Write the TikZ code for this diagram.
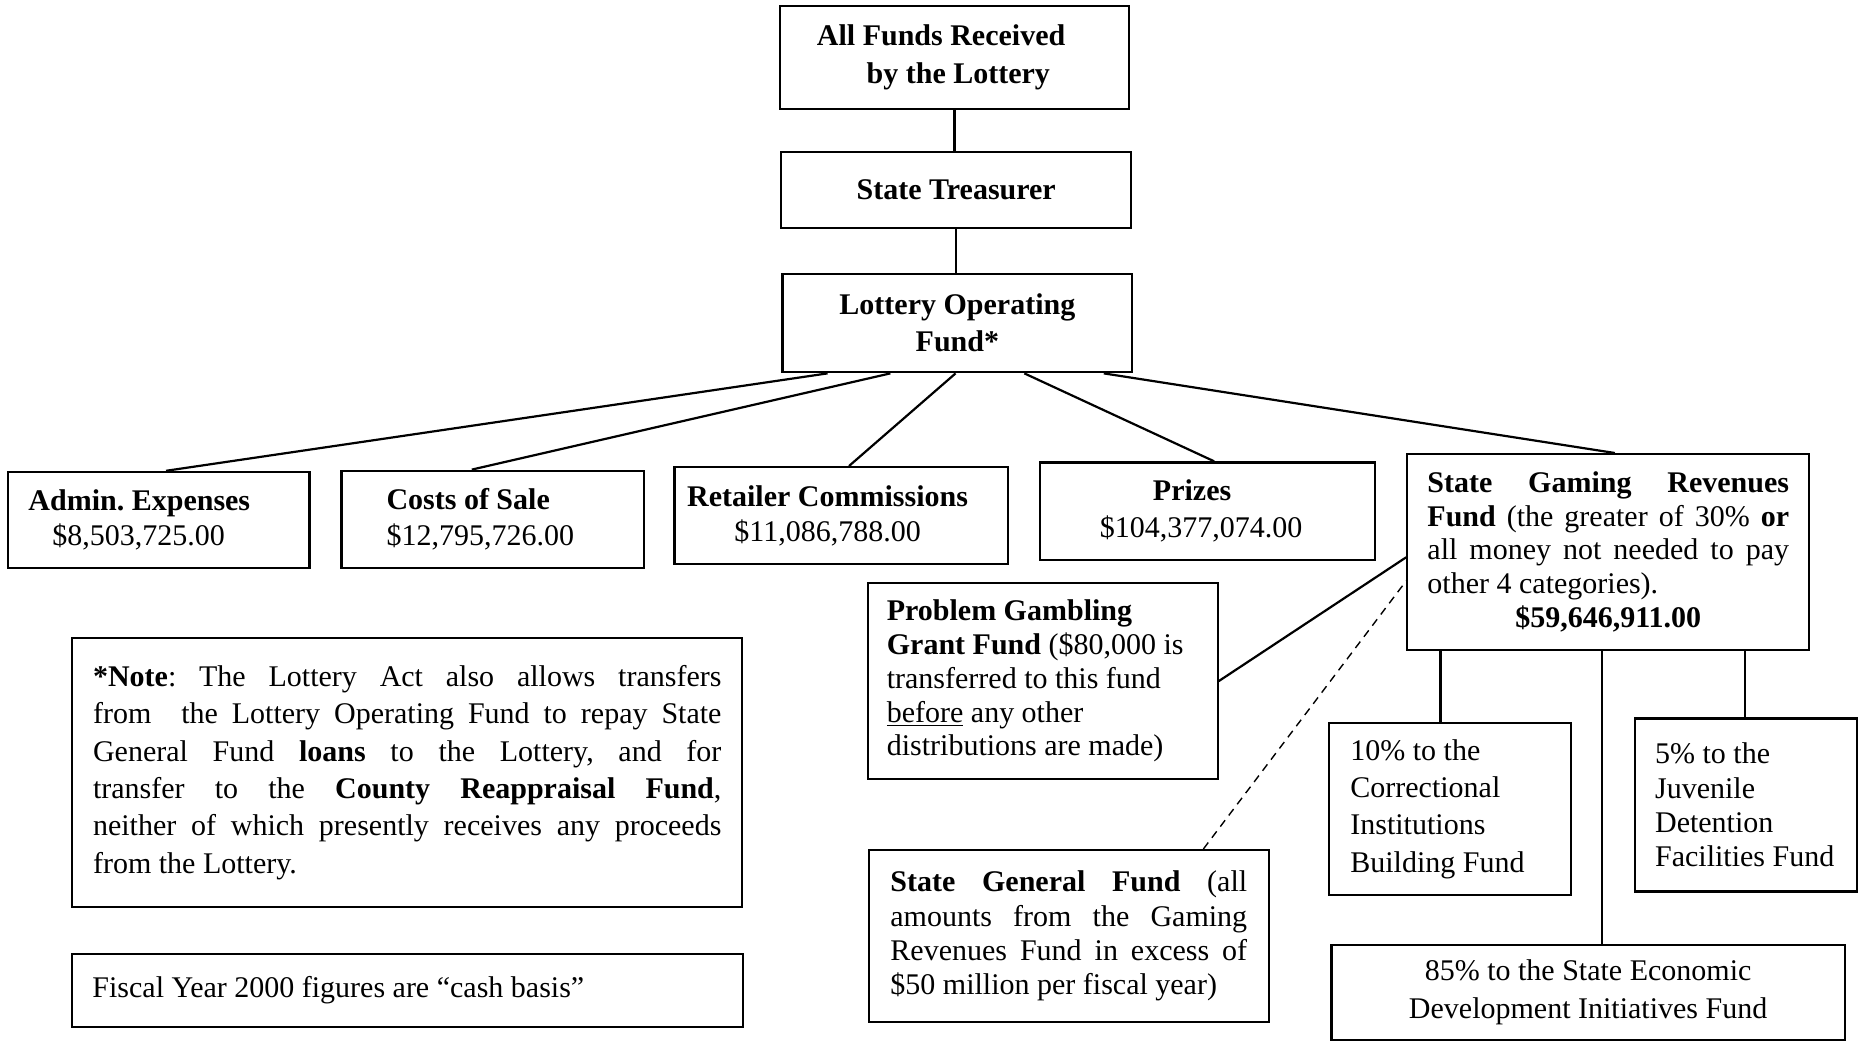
\documentclass[tikz,border=0pt]{standalone}
\usepackage{fontspec}
\setmainfont{Liberation Serif}
\usetikzlibrary{calc}
\newcommand\jline[1]{\makebox[\hsize][s]{\spaceskip=0pt\xspaceskip=0pt\relax #1}}
\tikzset{
  bx/.style={draw, line width=1.1pt, inner sep=0pt},
  fs/.style={font=\fontsize{15}{#1}\selectfont\frenchspacing},
  ln/.style={line width=1.1pt},
  dln/.style={line width=0.7pt, dash pattern=on 4pt off 3pt},
}
\begin{document}
\begin{tikzpicture}[x=0.5928pt,y=-0.5928pt]
\useasboundingbox[fill=white] (0,0) rectangle (1568,879);

% top chain
\node[bx, minimum width=174.3pt, minimum height=51.6pt, text width=137.5pt, align=flush left, fs=19] (af) at (805,48.5)
  {\textbf{All Funds Received}\\\hspace*{24.9pt}\textbf{by the Lottery}};
\node[bx, minimum width=174.9pt, minimum height=37.9pt, align=flush center, fs=18] (st) at (806.5,160)
  {\textbf{State Treasurer}};
\node[bx, minimum width=174.9pt, minimum height=49.2pt, align=flush center, fs=18.4] (lof) at (807.5,272.5)
  {\textbf{Lottery Operating}\\\textbf{Fund*}};

% second row
\node[bx, minimum width=150.6pt, minimum height=48pt, text width=130.4pt, align=flush left, fs=17.8] (admin) at (134,438.5)
  {\textbf{Admin. Expenses}\\\hspace*{11.9pt}\$8,503,725.00};
\node[bx, minimum width=151.2pt, minimum height=48.6pt, text width=106.1pt, align=flush left, fs=17.8] (costs) at (415.5,438)
  {\textbf{Costs of Sale}\\\$12,795,726.00};
\node[bx, minimum width=166.6pt, minimum height=48.6pt, align=flush center, fs=17.2] (ret) at (709.5,435)
  {\textbf{Retailer Commissions}\hspace*{13.6pt}\\\$11,086,788.00\hspace*{13.6pt}};
\node[bx, minimum width=167.8pt, minimum height=48.6pt, align=flush center, fs=18.4] (prizes) at (1018.5,431)
  {\textbf{Prizes}\hspace*{15.4pt}\\\$104,377,074.00\hspace*{6.5pt}};
\node[bx, minimum width=201pt, minimum height=97.8pt, text width=180.8pt, align=flush left, fs=16.9] (sgrf) at (1356.5,465.5)
  {\jline{\textbf{State Gaming Revenues}}\\
   \jline{\textbf{Fund} (the greater of 30\% \textbf{or}}\\
   \jline{all money not needed to pay}\\
   other 4 categories).\\
   \makebox[\hsize][c]{\textbf{\$59,646,911.00}}};

% problem gambling & state general fund
\node[bx, minimum width=174.9pt, minimum height=97.8pt, text width=155.9pt, align=flush left, fs=16.9] (pg) at (879.5,574.5)
  {\textbf{Problem Gambling}\\
   \textbf{Grant Fund} (\$80,000 is\\
   transferred to this fund\\
   \underline{before} any other\\
   distributions are made)};
\node[bx, minimum width=199.8pt, minimum height=86pt, text width=178.4pt, align=flush left, fs=17.2] (sgn) at (901.5,789.5)
  {\jline{\textbf{State General Fund} (all}\\
   \jline{amounts from the Gaming}\\
   \jline{Revenues Fund in excess of}\\
   \$50 million per fiscal year)};

% sub funds
\node[bx, minimum width=120.9pt, minimum height=86pt, text width=99.6pt, align=flush left, fs=18.6] (tenp) at (1223,682.5)
  {10\% to the\\Correctional\\Institutions\\Building Fund};
\node[bx, minimum width=110.9pt, minimum height=86.5pt, text width=90.7pt, align=flush left, fs=17.2] (fivep) at (1472.5,679)
  {5\% to the\\Juvenile\\Detention\\\mbox{Facilities Fund}};
\node[bx, minimum width=256.7pt, minimum height=47.4pt, align=flush center, fs=19] (efive) at (1339.5,837)
  {85\% to the State Economic\\Development Initiatives Fund};

% notes
\node[bx, minimum width=334.9pt, minimum height=134.6pt, text width=314.2pt, align=flush left, fs=18.7] (note) at (343.5,651.5)
  {\jline{\textbf{*Note}: The Lottery Act also allows transfers}\\
   \jline{from\hspace{8pt} the Lottery Operating Fund to repay State}\\
   \jline{General Fund \textbf{loans} to the Lottery, and for}\\
   \jline{transfer to the \textbf{County Reappraisal Fund},}\\
   \jline{neither of which presently receives any proceeds}\\
   from the Lottery.\par\vskip 8.9pt};
\node[bx, minimum width=335.5pt, minimum height=36.2pt, text width=315.4pt, align=flush left, fs=18] (fiscal) at (344,835.5)
  {Fiscal Year 2000 figures are “cash basis”};

% connectors
\draw[ln] (af.south) -- (af.south |- st.north);
\draw[ln] (st.south) -- (st.south |- lof.north);
\draw[ln] ([xshift=-64.9pt]lof.south) -- ([xshift=3.6pt]admin.north);
\draw[ln] ([xshift=-33.5pt]lof.south) -- ([xshift=-10.4pt]costs.north);
\draw[ln] ([xshift=-0.9pt]lof.south) -- ([xshift=3.9pt]ret.north);
\draw[ln] ([xshift=33.5pt]lof.south) -- ([xshift=3.3pt]prizes.north);
\draw[ln] ([xshift=73.2pt]lof.south) -- ([xshift=3.3pt]sgrf.north);
\draw[ln] (pg.east) -- ([yshift=-2.7pt]sgrf.west);
\draw[dln] ([xshift=67.3pt]sgn.north) -- ([yshift=-14.5pt]sgrf.west);
\draw[ln] ([xshift=-83.9pt]sgrf.south) -- ([xshift=-83.9pt]sgrf.south |- tenp.north);
\draw[ln] ([xshift=-3.3pt]sgrf.south) -- ([xshift=-3.3pt]sgrf.south |- efive.north);
\draw[ln] ([xshift=68.5pt]sgrf.south) -- ([xshift=68.5pt]sgrf.south |- fivep.north);
\end{tikzpicture}
\end{document}
